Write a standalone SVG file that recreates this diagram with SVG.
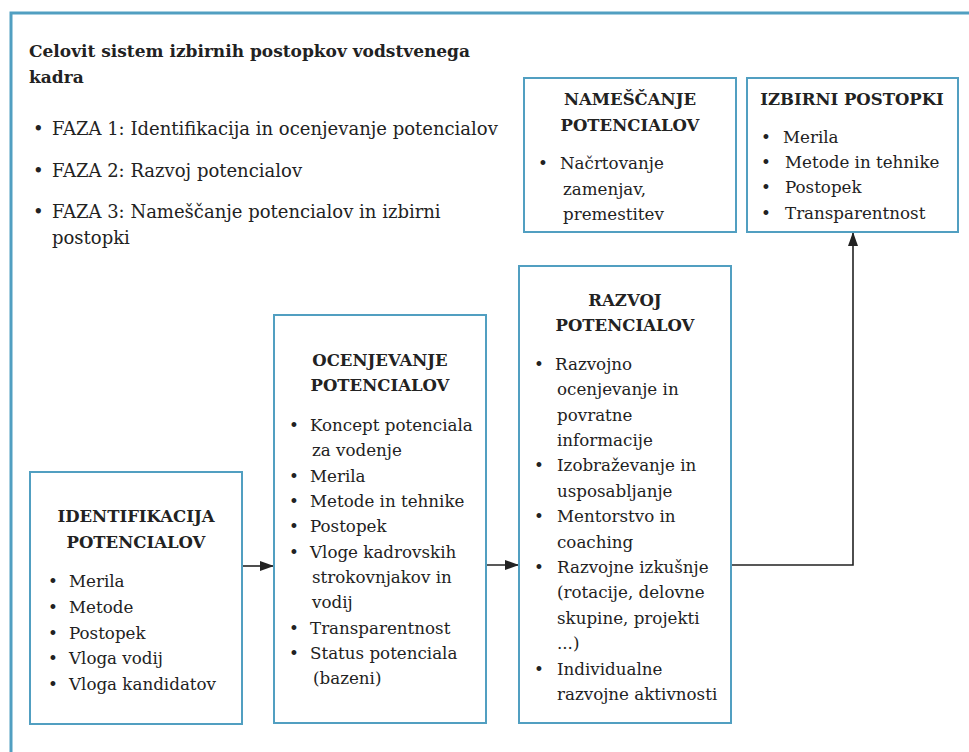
<svg xmlns="http://www.w3.org/2000/svg" width="969" height="752" viewBox="0 0 969 752">
<style>
.frame{fill:none;stroke:#519fc1;stroke-width:3}
.box{fill:#fff;stroke:#519fc1;stroke-width:2}
.t{font-family:"DejaVu Serif","Liberation Serif",serif;fill:#222;font-size:16.7px}
.h{font-family:"DejaVu Serif","Liberation Serif",serif;fill:#222;font-size:16.5px;font-weight:bold;text-anchor:middle}
.title{font-family:"DejaVu Serif","Liberation Serif",serif;fill:#222;font-size:17px;font-weight:bold}
.faza{font-family:"DejaVu Serif","Liberation Serif",serif;fill:#222;font-size:18px}
.conn{fill:none;stroke:#222;stroke-width:1.6}
</style>
<defs>
<marker id="arr" markerUnits="userSpaceOnUse" markerWidth="15" markerHeight="11" refX="14" refY="5" orient="auto">
<path d="M0,0 L14,5 L0,10 z" fill="#222"/>
</marker>
</defs>
<rect width="969" height="752" fill="#fff"/>
<path class="frame" d="M11,752 V13 H969"/>
<g id="intro">
<text class="title" x="29" y="57">Celovit sistem izbirnih postopkov vodstvenega</text>
<text class="title" x="29" y="83">kadra</text>
<text class="faza" x="33" y="135">•</text><text class="faza" x="52" y="135">FAZA 1: Identifikacija in ocenjevanje potencialov</text>
<text class="faza" x="33" y="177">•</text><text class="faza" x="52" y="177">FAZA 2: Razvoj potencialov</text>
<text class="faza" x="33" y="218">•</text><text class="faza" x="52" y="218">FAZA 3: Nameščanje potencialov in izbirni</text>
<text class="faza" x="52" y="244">postopki</text>
</g>
<g id="connectors">
<line class="conn" x1="242" y1="566" x2="274" y2="566" marker-end="url(#arr)"/>
<line class="conn" x1="486" y1="565" x2="519" y2="565" marker-end="url(#arr)"/>
<path class="conn" d="M731,565 H853 V232" marker-end="url(#arr)"/>
</g>
<g id="identifikacija">
<rect class="box" x="30" y="472" width="212" height="252"/>
<text class="h" x="136" y="522">IDENTIFIKACIJA</text>
<text class="h" x="136" y="548">POTENCIALOV</text>
<text class="t" x="48" y="587">•</text><text class="t" x="69" y="587">Merila</text>
<text class="t" x="48" y="613">•</text><text class="t" x="69" y="613">Metode</text>
<text class="t" x="48" y="639">•</text><text class="t" x="69" y="639">Postopek</text>
<text class="t" x="48" y="664">•</text><text class="t" x="69" y="664">Vloga vodij</text>
<text class="t" x="48" y="690">•</text><text class="t" x="69" y="690">Vloga kandidatov</text>
</g>
<g id="ocenjevanje">
<rect class="box" x="274" y="315" width="212" height="408"/>
<text class="h" x="380" y="366">OCENJEVANJE</text>
<text class="h" x="380" y="391">POTENCIALOV</text>
<text class="t" x="289" y="431">•</text><text class="t" x="310" y="431">Koncept potenciala</text>
<text class="t" x="312" y="456">za vodenje</text>
<text class="t" x="289" y="482">•</text><text class="t" x="310" y="482">Merila</text>
<text class="t" x="289" y="507">•</text><text class="t" x="310" y="507">Metode in tehnike</text>
<text class="t" x="289" y="532">•</text><text class="t" x="310" y="532">Postopek</text>
<text class="t" x="289" y="558">•</text><text class="t" x="310" y="558">Vloge kadrovskih</text>
<text class="t" x="312" y="583">strokovnjakov in</text>
<text class="t" x="312" y="608">vodij</text>
<text class="t" x="289" y="634">•</text><text class="t" x="310" y="634">Transparentnost</text>
<text class="t" x="289" y="659">•</text><text class="t" x="310" y="659">Status potenciala</text>
<text class="t" x="313" y="684">(bazeni)</text>
</g>
<g id="razvoj">
<rect class="box" x="519" y="266" width="212" height="457"/>
<text class="h" x="625" y="306">RAZVOJ</text>
<text class="h" x="625" y="331">POTENCIALOV</text>
<text class="t" x="534" y="370">•</text><text class="t" x="555" y="370">Razvojno</text>
<text class="t" x="557" y="395">ocenjevanje in</text>
<text class="t" x="557" y="421">povratne</text>
<text class="t" x="557" y="446">informacije</text>
<text class="t" x="534" y="471">•</text><text class="t" x="557" y="471">Izobraževanje in</text>
<text class="t" x="557" y="497">usposabljanje</text>
<text class="t" x="534" y="522">•</text><text class="t" x="557" y="522">Mentorstvo in</text>
<text class="t" x="557" y="548">coaching</text>
<text class="t" x="534" y="573">•</text><text class="t" x="557" y="573">Razvojne izkušnje</text>
<text class="t" x="557" y="598">(rotacije, delovne</text>
<text class="t" x="557" y="624">skupine, projekti</text>
<text class="t" x="557" y="649">...)</text>
<text class="t" x="534" y="675">•</text><text class="t" x="557" y="675">Individualne</text>
<text class="t" x="557" y="700">razvojne aktivnosti</text>
</g>
<g id="namescanje">
<rect class="box" x="524" y="78" width="212" height="154"/>
<text class="h" x="630" y="105">NAMEŠČANJE</text>
<text class="h" x="630" y="131">POTENCIALOV</text>
<text class="t" x="538" y="169">•</text><text class="t" x="560" y="169">Načrtovanje</text>
<text class="t" x="563" y="195">zamenjav,</text>
<text class="t" x="563" y="220">premestitev</text>
</g>
<g id="izbirni">
<rect class="box" x="747" y="78" width="211" height="154"/>
<text class="h" x="852" y="105">IZBIRNI POSTOPKI</text>
<text class="t" x="761" y="143">•</text><text class="t" x="783" y="143">Merila</text>
<text class="t" x="761" y="168">•</text><text class="t" x="785" y="168">Metode in tehnike</text>
<text class="t" x="761" y="193">•</text><text class="t" x="785" y="193">Postopek</text>
<text class="t" x="761" y="219">•</text><text class="t" x="785" y="219">Transparentnost</text>
</g>
</svg>
